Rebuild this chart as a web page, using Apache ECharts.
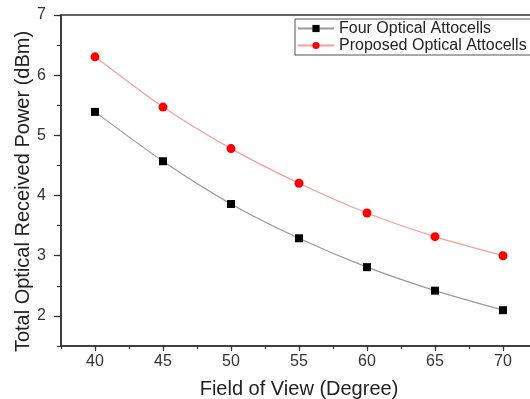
<!DOCTYPE html>
<html>
<head>
<meta charset="utf-8">
<script src="https://cdn.jsdelivr.net/npm/echarts@6/dist/echarts.min.js"></script>
<style>html,body{margin:0;padding:0;background:#fff;}#c{width:530px;height:399px;}</style>
</head>
<body>
<div id="c"></div>
<script>
var fovDegrees = [40, 45, 50, 55, 60, 65, 70];
var fourAttocells = [5.39, 4.57, 3.86, 3.29, 2.81, 2.42, 2.095];
var proposedAttocells = [6.305, 5.47, 4.78, 4.205, 3.71, 3.317, 3.0];
var xMajorTicks = [40, 45, 50, 55, 60, 65, 70];
var yMajorTicks = [2, 3, 4, 5, 6, 7];

var FONT = '"Liberation Sans", Arial, sans-serif';
function pairs(xs, ys) { return xs.map(function (x, i) { return [x, ys[i]]; }); }

var chart = echarts.init(document.getElementById('c'), null, {renderer: 'canvas'});
chart.setOption({
  animation: false,
  backgroundColor: '#fff',
  grid: {left: 61, top: 15, width: 476, height: 331, outerBoundsMode: 'none', containLabel: false,
    show: true, borderColor: '#333', borderWidth: 1.5, backgroundColor: 'transparent'},
  legend: {
    left: 295, top: 19, orient: 'vertical', itemGap: 0, itemWidth: 36, itemHeight: 9,
    padding: [1, 40, 1, 2], borderColor: '#555', borderWidth: 1,
    textStyle: {fontFamily: FONT, fontSize: 16, lineHeight: 17, color: '#222'},
    data: ['Four Optical Attocells', 'Proposed Optical Attocells']
  },
  xAxis: [{
    type: 'value', min: 37.5, max: 72.5, interval: 2.5,
    name: 'Field of View (Degree)', nameLocation: 'middle', nameGap: 33, nameMoveOverlap: false,
    nameTextStyle: {fontFamily: FONT, fontSize: 20, color: '#222'},
    axisLine: {show: true, lineStyle: {color: '#333', width: 1.5}},
    axisTick: {show: true, inside: false, length: 3, lineStyle: {color: '#333', width: 1.2}},
    axisLabel: {fontFamily: FONT, fontSize: 16, color: '#333', margin: 8,
      formatter: function (v) { return (Math.abs(v % 5) < 1e-6) ? String(v) : ''; }},
    splitLine: {show: false}
  }, {
    type: 'value', min: 37.5, max: 72.5, position: 'bottom',
    axisLine: {show: false},
    axisTick: {show: true, length: 5, customValues: xMajorTicks, lineStyle: {color: '#333', width: 1.2}},
    axisLabel: {show: false},
    splitLine: {show: false}
  }],
  yAxis: [{
    type: 'value', min: 1.5, max: 7, interval: 0.5,
    name: 'Total Optical Received Power (dBm)', nameLocation: 'middle', nameGap: 28, nameMoveOverlap: false,
    nameTextStyle: {fontFamily: FONT, fontSize: 20, color: '#222', padding: [0, 22, 0, 0]},
    axisLine: {show: true, lineStyle: {color: '#333', width: 1.5}},
    axisTick: {show: true, inside: false, length: 4, lineStyle: {color: '#333', width: 1.2}},
    axisLabel: {fontFamily: FONT, fontSize: 16, color: '#333', margin: 15,
      formatter: function (v) { return (Math.abs(v % 1) < 1e-6) ? String(v) : ''; }},
    splitLine: {show: false}
  }, {
    type: 'value', min: 1.5, max: 7, position: 'left',
    axisLine: {show: false},
    axisTick: {show: true, length: 7, customValues: yMajorTicks, lineStyle: {color: '#333', width: 1.2}},
    axisLabel: {show: false},
    splitLine: {show: false}
  }],
  series: [{
    name: 'Four Optical Attocells', type: 'line', smooth: 0.25,
    data: pairs(fovDegrees, fourAttocells),
    symbol: 'rect', symbolSize: 8,
    itemStyle: {color: '#000'},
    lineStyle: {color: '#999', width: 1.2}
  }, {
    name: 'Proposed Optical Attocells', type: 'line', smooth: 0.25,
    data: pairs(fovDegrees, proposedAttocells),
    symbol: 'circle', symbolSize: 9,
    itemStyle: {color: '#ff0000'},
    lineStyle: {color: '#ff9a9a', width: 1.2}
  }]
});
</script>
</body>
</html>
